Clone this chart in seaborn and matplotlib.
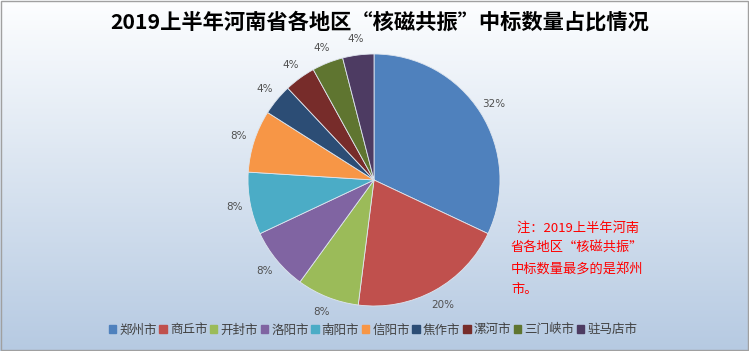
import numpy as np
import matplotlib
matplotlib.use("Agg")
import matplotlib.pyplot as plt
import seaborn as sns

# 2019上半年河南省各地区"核磁共振"中标数量
cities = ["郑州市", "商丘市", "开封市", "洛阳市", "南阳市", "信阳市", "焦作市", "漯河市", "三门峡市", "驻马店市"]
counts = [8, 5, 2, 2, 2, 2, 1, 1, 1, 1]
colors = ["#4F81BD", "#C0504D", "#9BBB59", "#8064A2", "#4BACC6",
          "#F79646", "#2C4D75", "#772C2A", "#5F7530", "#4D3B62"]
title = "2019上半年河南省各地区“核磁共振”中标数量占比情况"
note_lines = ["  注：2019上半年河南", "省各地区“核磁共振”", "中标数量最多的是郑州", "市。"]

sns.set_theme(style="white")
plt.rcParams['font.family'] = ['Noto Sans CJK SC', 'DejaVu Sans']

W, H = 749, 351
fig = plt.figure(figsize=(W / 100, H / 100), dpi=100)

# 背景グラデーション
bg = fig.add_axes([0, 0, 1, 1], zorder=-10)
top = np.array([0xfd, 0xfe, 0xff]) / 255
bottom = np.array([0xb6, 0xca, 0xe2]) / 255
t = np.linspace(0, 1, 256)[:, None]
grad = (top * (1 - t) + bottom * t)[:, None, :]
bg.imshow(grad, aspect="auto", extent=[0, 1, 0, 1], origin="upper")
bg.add_patch(plt.Rectangle((0.001, 0.002), 0.997, 0.995, fill=False,
                           edgecolor="#a0a0a0", lw=1, transform=bg.transAxes))
bg.set_axis_off()

# pie
cx, cy, r = 374, 180, 126
ax = fig.add_axes([(cx - r) / W, (H - cy - r) / H, 2 * r / W, 2 * r / H])
wedges, texts, autotexts = ax.pie(
    counts, colors=colors, startangle=90, counterclock=False,
    autopct=lambda p: f"{p:.0f}%", pctdistance=1.13, radius=1,
    wedgeprops=dict(linewidth=0.6, edgecolor="#dfe6ef"),
    textprops=dict(fontsize=7.5, color="#505050", family="DejaVu Sans"))
ax.set_xlim(-1, 1)
ax.set_ylim(-1, 1)
ax.set_aspect("equal")
ax.set_axis_off()

fig.text(380 / W, 1 - 22 / H, title, ha="center", va="center",
         fontsize=15.3, fontweight="bold", color="black")

for i, line in enumerate(note_lines):
    fig.text(511 / W, 1 - (228 + i * 20.5) / H, line, ha="left", va="center",
             fontsize=9.5, color="#FF0000")

handles = [plt.Rectangle((0, 0), 1, 1, color=c) for c in colors]
fig.legend(handles, cities, loc="center", bbox_to_anchor=(373 / W, 1 - 330 / H),
           ncol=len(cities), frameon=False, fontsize=9, handlelength=0.6,
           handleheight=0.6, handletextpad=0.25, columnspacing=0.2,
           labelcolor="#404040")

fig.savefig("out.png", dpi=100)
